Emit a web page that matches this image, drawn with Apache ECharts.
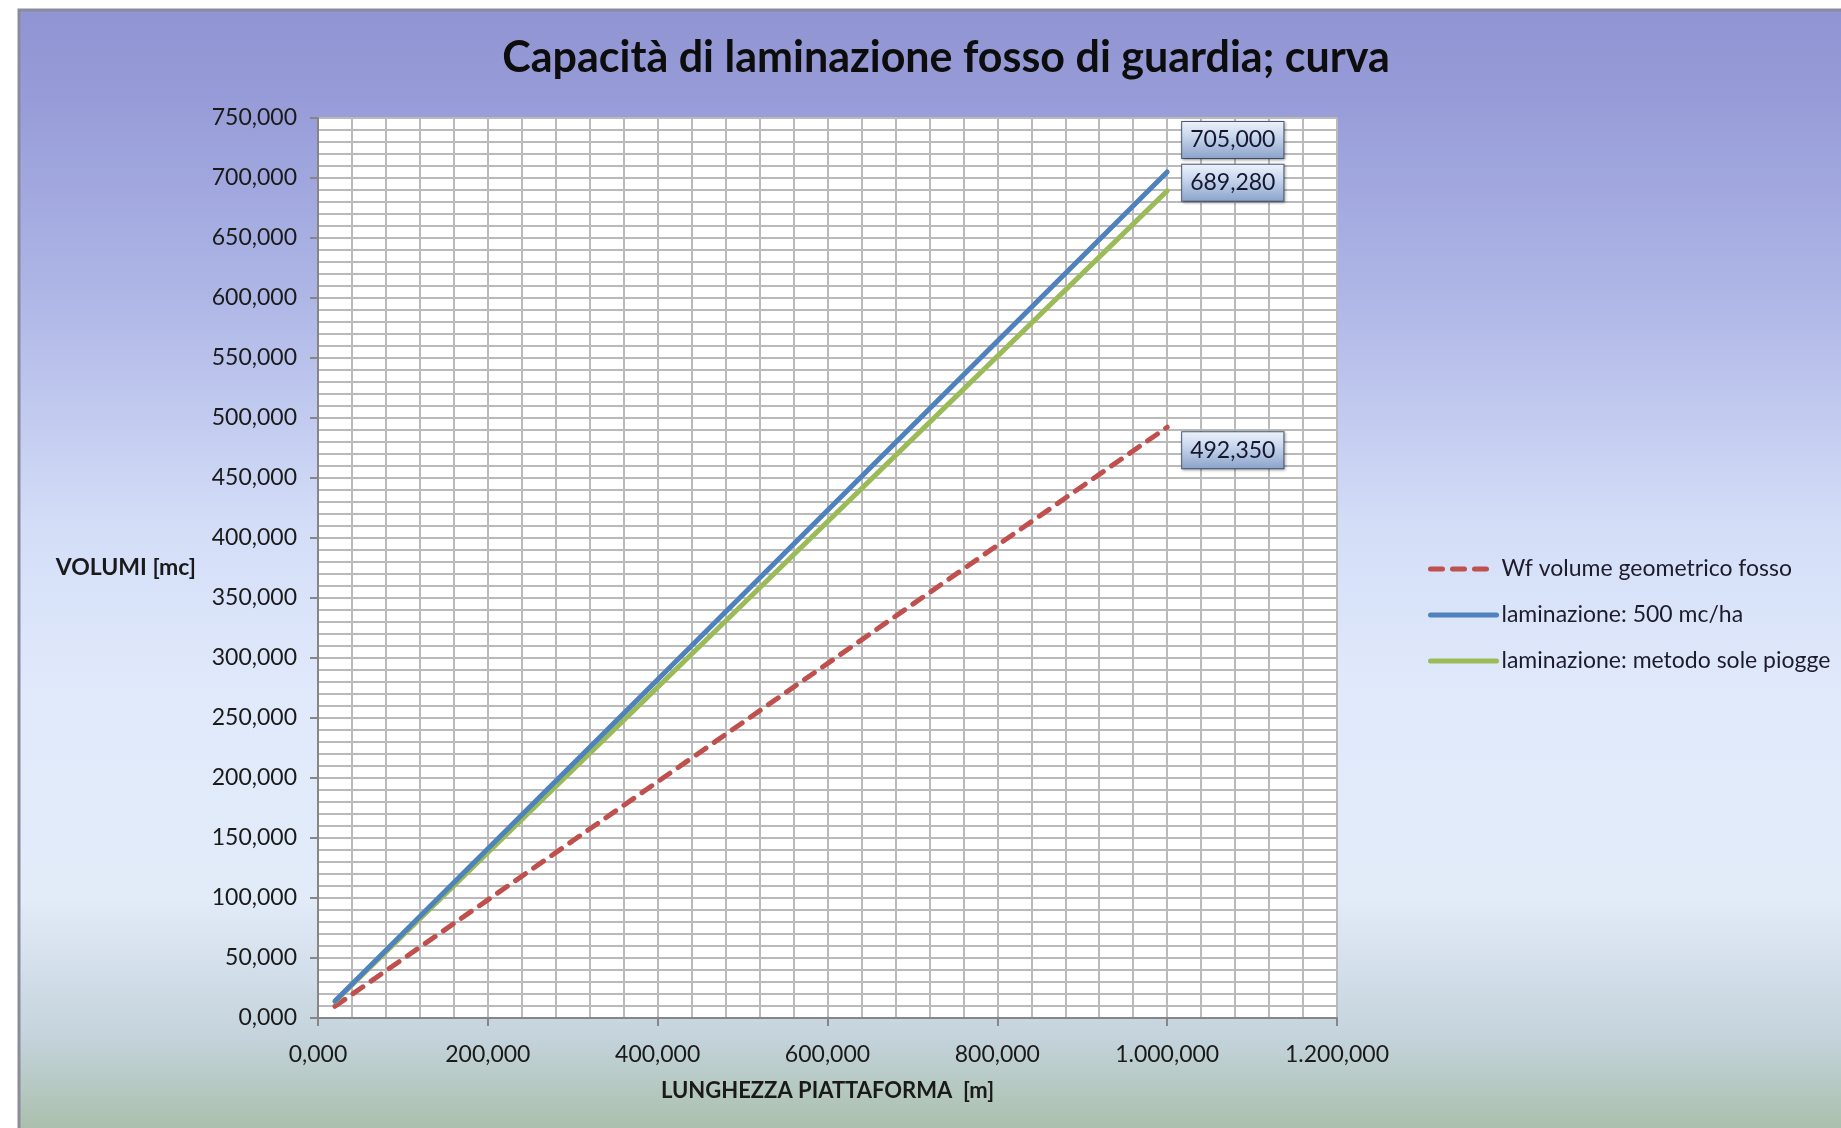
<!DOCTYPE html>
<html>
<head>
<meta charset="utf-8">
<title>Capacità di laminazione fosso di guardia; curva</title>
<script src="https://cdn.jsdelivr.net/npm/echarts@6/dist/echarts.min.js"></script>
<style>
  html, body { margin: 0; padding: 0; background: #fff; }
  #chart { width: 1841px; height: 1128px; }
</style>
</head>
<body>
<div id="chart"></div>
<script>
// lunghezza piattaforma [m]
const lunghezze = [20, 1000]
// volumi [mc]
const volumeFosso = [9.8, 492.35]
const laminazione500 = [14.1, 705.0]
const laminazionePiogge = [13.8, 689.28]

const seriesNames = ['Wf volume geometrico fosso', 'laminazione: 500 mc/ha', 'laminazione: metodo sole piogge']
const colors = ['#c0504d', '#4f81bd', '#9bbb59']
const labelOffsets = [[0, 23], [0, -32], [0, -8]]

// formato italiano: 1.000,000
function fmt(v) {
  const parts = Number(v).toFixed(3).split('.')
  parts[0] = parts[0].replace(/\B(?=(\d{3})+(?!\d))/g, '.')
  return parts.join(',')
}

const labelBox = {
  show: true,
  distance: 15,
  fontFamily: 'Lato',
  fontSize: 23,
  color: '#15172e',
  padding: [7, 8, 6, 8],
  borderColor: '#4f5d74',
  borderWidth: 1,
  shadowColor: 'rgba(0,0,0,0.35)',
  shadowBlur: 3,
  shadowOffsetX: 1,
  shadowOffsetY: 1,
  backgroundColor: {
    type: 'linear', x: 0, y: 0, x2: 0, y2: 1,
    colorStops: [
      { offset: 0, color: '#eef3fb' },
      { offset: 0.4, color: '#c8d6ee' },
      { offset: 1, color: '#8aa2c9' }
    ]
  },
  formatter: p => fmt(p.value[1])
}

const allYs = [volumeFosso, laminazione500, laminazionePiogge]

const series = allYs.map((ys, i) => ({
  name: seriesNames[i],
  type: 'line',
  data: lunghezze.map((x, j) => [x, ys[j]]),
  symbol: 'none',
  showSymbol: false,
  color: colors[i],
  lineStyle: {
    width: 5,
    color: colors[i],
    type: i === 0 ? [12, 10] : 'solid',
    cap: 'round'
  },
  endLabel: Object.assign({}, labelBox, { offset: labelOffsets[i] }),
  z: i === 1 ? 3 : 2
}))

const gridLine = { show: true, lineStyle: { color: '#bababa', width: 2 } }

const option = {
  animation: false,
  backgroundColor: 'transparent',
  graphic: [
    {
      type: 'rect',
      z: -10,
      silent: true,
      shape: { x: 19, y: 10, width: 1841, height: 1140 },
      style: {
        stroke: '#8a8b9c',
        lineWidth: 3,
        fill: {
          type: 'linear', x: 0, y: 0, x2: 0, y2: 1,
          colorStops: [
            { offset: 0, color: '#9094d2' },
            { offset: 0.08, color: '#979cd8' },
            { offset: 0.25, color: '#aeb6e6' },
            { offset: 0.45, color: '#d3ddf7' },
            { offset: 0.6, color: '#e1eafb' },
            { offset: 0.78, color: '#e2ebf8' },
            { offset: 0.9, color: '#c4d3dc' },
            { offset: 1, color: '#a3bba0' }
          ]
        }
      }
    }
  ],
  title: {
    text: 'Capacità di laminazione fosso di guardia; curva',
    left: 941,
    top: 32,
    textAlign: 'center',
    textStyle: {
      fontFamily: 'Lato',
      fontWeight: 'bold',
      fontSize: 43,
      color: '#0d0d0d'
    }
  },
  legend: {
    orient: 'vertical',
    left: 1423,
    top: 552,
    itemWidth: 66,
    itemHeight: 14,
    itemGap: 22,
    data: seriesNames,
    itemStyle: { opacity: 0 },
    lineStyle: { width: 5, cap: 'round' },
    textStyle: { fontFamily: 'Lato', fontSize: 23, lineHeight: 24, color: '#1c1c2c' }
  },
  grid: {
    left: 318,
    top: 118,
    width: 1019,
    height: 900,
    show: true,
    backgroundColor: '#ffffff',
    borderWidth: 0
  },
  xAxis: {
    type: 'value',
    min: 0,
    max: 1200,
    interval: 200,
    name: 'LUNGHEZZA PIATTAFORMA  [m]',
    nameLocation: 'middle',
    nameGap: 62,
    nameTextStyle: { fontFamily: 'Lato', fontWeight: 'bold', fontSize: 22, color: '#1a1a1a' },
    axisLine: { show: true, lineStyle: { color: '#868686', width: 2 } },
    axisTick: { show: true, length: 8, lineStyle: { color: '#868686', width: 2 } },
    axisLabel: { margin: 25, fontFamily: 'Lato', fontSize: 23, color: '#1a1a1a', formatter: fmt },
    splitLine: gridLine,
    minorTick: { show: false, splitNumber: 5 },
    minorSplitLine: gridLine
  },
  yAxis: {
    type: 'value',
    min: 0,
    max: 750,
    interval: 50,
    name: 'VOLUMI [mc]',
    nameLocation: 'middle',
    nameRotate: 0,
    nameGap: 122,
    nameTextStyle: { fontFamily: 'Lato', fontWeight: 'bold', fontSize: 23, color: '#1a1a1a' },
    axisLine: { show: true, lineStyle: { color: '#868686', width: 2 } },
    axisTick: { show: true, length: 8, lineStyle: { color: '#868686', width: 2 } },
    axisLabel: { margin: 21, fontFamily: 'Lato', fontSize: 23, color: '#1a1a1a', formatter: fmt },
    splitLine: gridLine,
    minorTick: { show: false, splitNumber: 5 },
    minorSplitLine: gridLine
  },
  series: series
}

const chart = echarts.init(document.getElementById('chart'))
chart.setOption(option)
</script>
</body>
</html>
